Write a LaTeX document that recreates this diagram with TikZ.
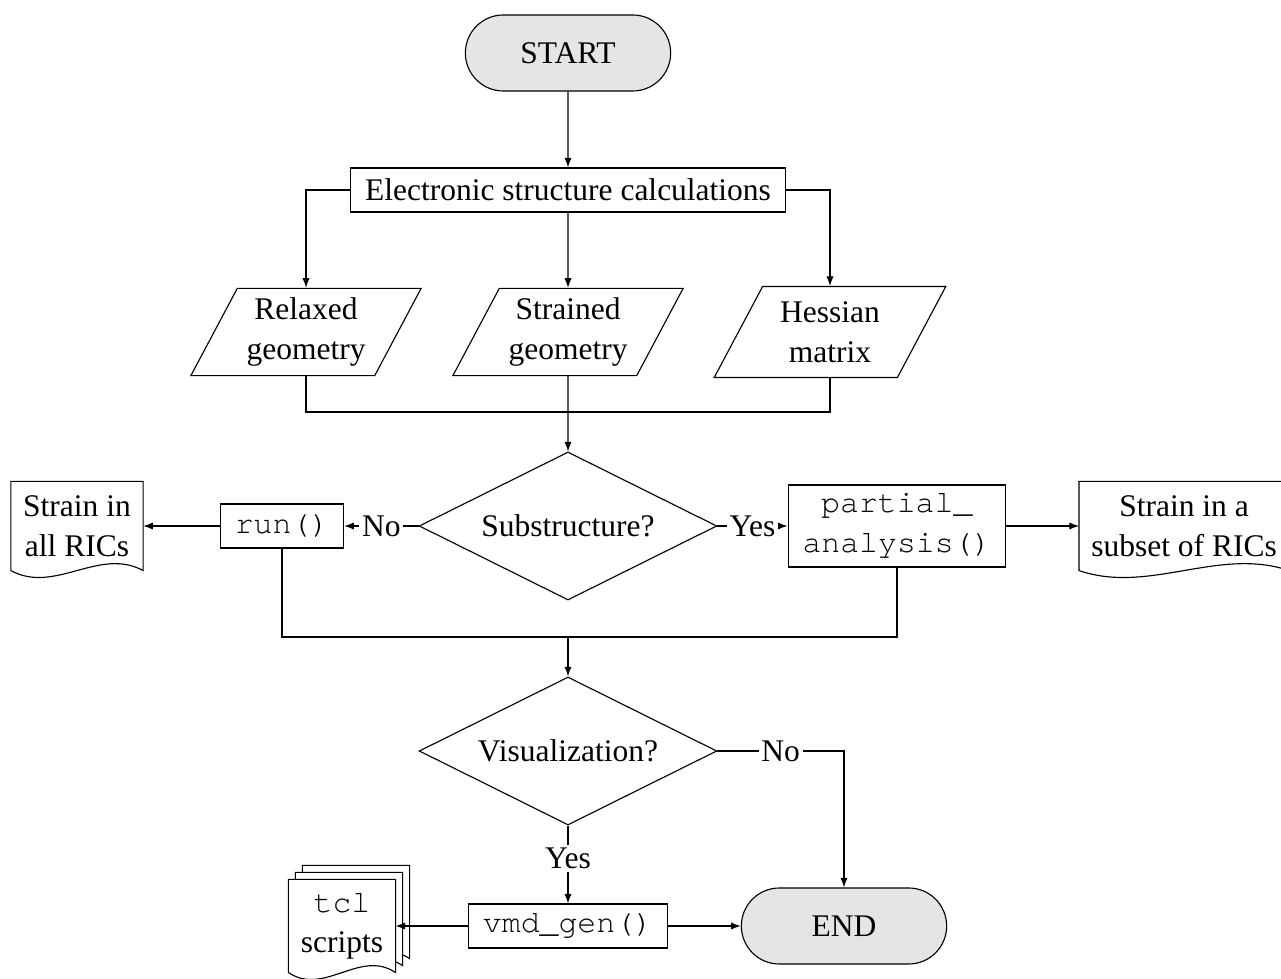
\documentclass[tikz,border=0pt]{standalone}
\usepackage{fontspec}
\setmainfont{Liberation Serif}
\setmonofont{TeX Gyre Cursor}
\usetikzlibrary{shapes.geometric,shapes.misc,arrows.meta,calc,backgrounds}

% outline of a document sheet round node #1, moved by #2 (pixels)
\newcommand\docoutline[2]{%
  \draw[fill=white] ($(#1.south west)+(#2)$) -- ($(#1.north west)+(#2)$) -- ($(#1.north east)+(#2)$) -- ($(#1.south east)+(#2)$)
    .. controls ($(#1.south east)!1/3!(#1.south west)+(#2)+(0,-24)$) and ($(#1.south east)!2/3!(#1.south west)+(#2)+(0,24)$) .. ($(#1.south west)+(#2)$) -- cycle;}

\begin{document}
\begin{tikzpicture}[x=0.0125cm,y=-0.0125cm,font=\fontsize{11.2}{14.2}\selectfont,
    >={Latex[length=1.2mm,width=0.9mm]},
    term/.style={draw,rounded rectangle,fill=gray!20,minimum width=2.8cm,minimum height=0.95cm},
    proc/.style={draw,align=center,minimum height=0.55cm,inner xsep=0.18cm,inner ysep=3pt},
    io/.style={draw,trapezium,trapezium left angle=62,trapezium right angle=118,align=center,minimum width=2.9cm},
    decision/.style={draw,diamond,aspect=2,minimum width=3.72cm,minimum height=1.85cm},
    doc/.style={align=center,minimum height=1.1cm},
    lbl/.style={fill=white,inner sep=1pt}]
  \useasboundingbox (0,0) rectangle (1281,979);

  \node[term] (start) at (568,53) {START};
  \node[proc] (esc) at (568,190) {Electronic structure calculations};
  \node[io] (relax) at (306,332) {Relaxed\\geometry};
  \node[io] (strain) at (568,332) {Strained\\geometry};
  \node[io] (hess) at (830,332) {Hessian\\matrix};
  \node[decision] (sub) at (568,526) {Substructure?};
  \node[proc] (run) at (282,526) {\texttt{run()}};
  \node[proc] (part) at (897,526) {\texttt{partial\_}\\\texttt{analysis()}};
  \node[doc,minimum width=1.64cm] (allric) at (77,526) {Strain in\\all RICs};
  \node[doc,minimum width=2.61cm] (subric) at (1184,526) {Strain in a\\subset of RICs};
  \node[decision] (vis) at (568,751) {Visualization?};
  \node[proc] (vmd) at (568,926) {\texttt{vmd\_gen()}};
  \node[term] (end) at (844,926) {END};
  \node[doc,minimum width=1.325cm,minimum height=1.15cm] (tcl) at (342,926) {\texttt{tcl}\\scripts};
  \coordinate (m1) at (568,412);
  \coordinate (m2) at (568,637);

  \begin{scope}[on background layer]
    \docoutline{tcl}{14,-14}
    \docoutline{tcl}{7,-7}
    \docoutline{tcl}{0,0}
    \docoutline{allric}{0,0}
    \docoutline{subric}{0,0}
  \end{scope}

  \draw[->] (start) -- (esc);
  \draw[->] (esc.west) -| (relax.north);
  \draw[->] (esc) -- (strain);
  \draw[->] (esc.east) -| (hess.north);
  \draw (relax.south) |- (m1) -| (hess.south);
  \draw[->] (strain) -- (sub);
  \draw[->] (sub.west) -- node[lbl] {No} (run.east);
  \draw[->] (sub.east) -- node[lbl] {Yes} (part.west);
  \draw[->] (run) -- (allric);
  \draw[->] (part) -- (subric);
  \draw (run.south) |- (m2) -| (part.south);
  \draw[->] (m2) -- (vis);
  \draw[->] (vis.east) -| node[lbl,pos=0.25] {No} (end.north);
  \draw[->] (vis) -- node[lbl,pos=0.42] {Yes} (vmd);
  \draw[->] (vmd) -- (end);
  \draw[->] (vmd) -- (tcl);
\end{tikzpicture}
\end{document}
